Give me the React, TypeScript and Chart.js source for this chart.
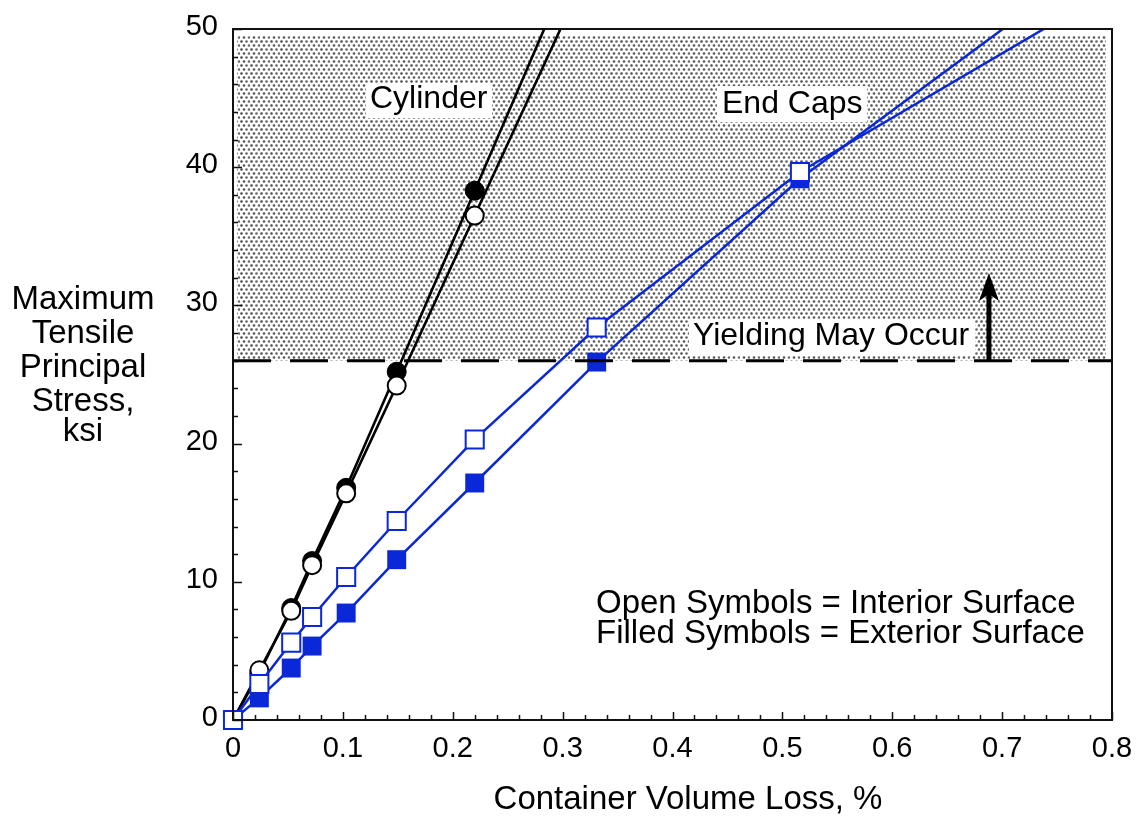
import React, { useEffect, useRef } from 'react';
import { Chart, registerables } from 'chart.js';

Chart.register(...registerables);

const FONT = '"Liberation Sans", Arial, Helvetica, sans-serif';

// Cylinder, filled circles (exterior surface); last point lies beyond the plot top
const cylExtX = [0, 0.024, 0.053, 0.072, 0.103, 0.149, 0.22, 0.3];
const cylExtY = [0, 3.4, 8.1, 11.5, 16.8, 25.2, 38.3, 53.1];
// Cylinder, open circles (interior surface)
const cylIntX = [0, 0.024, 0.053, 0.072, 0.103, 0.149, 0.22, 0.32];
const cylIntY = [0, 3.6, 7.9, 11.2, 16.4, 24.2, 36.5, 53.8];
// End caps, open squares (interior surface)
const capIntX = [0, 0.024, 0.053, 0.072, 0.103, 0.149, 0.22, 0.331, 0.516, 0.8];
const capIntY = [0, 2.6, 5.6, 7.45, 10.35, 14.4, 20.3, 28.4, 39.65, 52.9];
// End caps, filled squares (exterior surface)
const capExtX = [0, 0.024, 0.053, 0.072, 0.103, 0.149, 0.22, 0.331, 0.516, 0.75];
const capExtY = [0, 1.6, 3.76, 5.35, 7.74, 11.6, 17.15, 25.9, 39.16, 52.9];
// Yield threshold
const yieldX = [0, 0.8];
const yieldY = [26, 26];
const yieldLevel = 26;
const arrowX = 0.688;
const arrowTop = 32.35;

const xTitle = 'Container Volume Loss, %';
const yTitleLines = ['Maximum', 'Tensile', 'Principal', 'Stress,', 'ksi'];
const notes = ['Open Symbols = Interior Surface', 'Filled Symbols = Exterior Surface'];

const BLUE = '#0a28d8';

function zip(xs: number[], ys: number[]) {
  return xs.map((x, i) => ({ x, y: ys[i] }));
}

function makePattern(ctx: CanvasRenderingContext2D) {
  const c = document.createElement('canvas');
  c.width = 10;
  c.height = 8;
  const g = c.getContext('2d')!;
  g.fillStyle = '#fff';
  g.fillRect(0, 0, 10, 8);
  const dots = [
    [1, 1, '#4a4a4a'],
    [6, 1, '#646464'],
    [3.5, 5, '#555555'],
    [8.5, 5, '#6a6a6a'],
  ] as [number, number, string][];
  dots.forEach(([x, y, col]) => {
    g.fillStyle = col;
    g.beginPath();
    g.arc(x + 0.5, y + 0.5, 1.3, 0, Math.PI * 2);
    g.fill();
  });
  return ctx.createPattern(c, 'repeat')!;
}

function boxedText(ctx: CanvasRenderingContext2D, text: string, x: number, baseline: number, bx: number[], size: number) {
  ctx.fillStyle = '#fff';
  ctx.fillRect(bx[0], bx[1], bx[2] - bx[0], bx[3] - bx[1]);
  ctx.fillStyle = '#000';
  ctx.font = `${size}px ${FONT}`;
  ctx.textAlign = 'left';
  ctx.textBaseline = 'alphabetic';
  ctx.fillText(text, x, baseline);
}

const decor = {
  id: 'decor',
  beforeDatasetsDraw(chart: any) {
    const { ctx, chartArea, scales } = chart;
    const { left, right } = chartArea;
    const ys = scales.y;
    ctx.save();
    const top = ys.getPixelForValue(50) + 7;
    const bot = ys.getPixelForValue(yieldLevel);
    ctx.fillStyle = makePattern(ctx);
    ctx.fillRect(left + 4, top, right - 6 - (left + 4), bot - top);
    boxedText(ctx, 'Cylinder', 370, 108, [366, 83, 492, 118], 32);
    boxedText(ctx, 'End Caps', 722, 113, [717, 86, 867, 122], 32);
    boxedText(ctx, 'Yielding May Occur', 693, 345, [689, 320, 975, 356], 32);
    ctx.restore();
  },
  afterDatasetsDraw(chart: any) {
    const { ctx, scales } = chart;
    const xs = scales.x;
    const ys = scales.y;
    ctx.save();
    const ax = xs.getPixelForValue(arrowX);
    const ty = ys.getPixelForValue(arrowTop);
    const by = ys.getPixelForValue(yieldLevel);
    ctx.fillStyle = '#000';
    ctx.fillRect(ax - 2.5, ty + 18, 5, by - ty - 18 + 1);
    ctx.beginPath();
    ctx.moveTo(ax, ty);
    ctx.lineTo(ax + 10, ty + 28);
    ctx.lineTo(ax, ty + 21);
    ctx.lineTo(ax - 10, ty + 28);
    ctx.closePath();
    ctx.fill();
    ctx.restore();
  },
  afterDraw(chart: any) {
    const { ctx, chartArea, scales } = chart;
    const { left, right, top, bottom } = chartArea;
    const xs = scales.x;
    const ys = scales.y;
    ctx.save();
    ctx.strokeStyle = '#111';
    ctx.lineWidth = 2;
    ctx.strokeRect(left, top, right - left, bottom - top);
    ctx.lineWidth = 1.5;
    ctx.beginPath();
    for (let i = 0; i <= 40; i++) {
      const px = Math.round(xs.getPixelForValue(i * 0.02)) + 0.5;
      const len = i % 5 === 0 ? 8 : 5;
      ctx.moveTo(px, bottom);
      ctx.lineTo(px, bottom - len);
    }
    for (let i = 0; i <= 25; i++) {
      const py = Math.round(ys.getPixelForValue(i * 2)) + 0.5;
      const len = i % 5 === 0 ? 9 : 5;
      ctx.moveTo(left, py);
      ctx.lineTo(left + len, py);
    }
    ctx.stroke();

    ctx.fillStyle = '#000';
    ctx.textBaseline = 'alphabetic';
    ctx.font = `33px ${FONT}`;
    ctx.textAlign = 'left';
    ctx.fillText(notes[0], 596, 613);
    ctx.fillText(notes[1], 596, 643);
    ctx.textAlign = 'center';
    ctx.fillText(xTitle, 688, 809);
    const bases = [309, 343, 377, 411, 441];
    yTitleLines.forEach((t, i) => ctx.fillText(t, 83, bases[i]));
    ctx.restore();
  },
};

export default function App() {
  const ref = useRef<HTMLCanvasElement>(null);
  useEffect(() => {
    if (!ref.current) return;
    const markerClip = { left: 16, bottom: 16, top: 0, right: 0 };
    const lastHidden = (r: number, n: number) => (c: any) => (c.dataIndex === n - 1 ? 0 : r);
    const chart = new Chart(ref.current, {
      type: 'line',
      data: {
        datasets: [
          {
            data: zip(yieldX, yieldY),
            borderColor: '#000',
            borderWidth: 3,
            borderDash: [38, 19],
            pointRadius: 0,
            clip: 0,
          } as any,
          {
            data: zip(capIntX, capIntY),
            borderColor: BLUE,
            borderWidth: 2.5,
            pointStyle: 'rect',
            pointRadius: lastHidden(12.8, capIntX.length),
            pointBackgroundColor: '#fff',
            pointBorderColor: BLUE,
            pointBorderWidth: 2,
            clip: markerClip,
          },
          {
            data: zip(capExtX, capExtY),
            borderColor: BLUE,
            borderWidth: 2.5,
            pointStyle: 'rect',
            pointRadius: lastHidden(13.4, capExtX.length),
            pointBackgroundColor: BLUE,
            pointBorderColor: BLUE,
            pointBorderWidth: 0,
            clip: markerClip,
          },
          {
            data: zip(cylIntX, cylIntY),
            borderColor: '#000',
            borderWidth: 2.6,
            pointStyle: 'circle',
            pointRadius: lastHidden(9, cylIntX.length),
            pointBackgroundColor: '#fff',
            pointBorderColor: '#000',
            pointBorderWidth: 2,
            clip: markerClip,
          },
          {
            data: zip(cylExtX, cylExtY),
            borderColor: '#000',
            borderWidth: 2.6,
            pointStyle: 'circle',
            pointRadius: lastHidden(9.5, cylExtX.length),
            pointBackgroundColor: '#000',
            pointBorderColor: '#000',
            pointBorderWidth: 1,
            clip: markerClip,
          },
        ] as any,
      },
      options: {
        responsive: false,
        devicePixelRatio: 1,
        animation: false,
        parsing: false as any,
        layout: { padding: { top: 29, right: 28, left: 0, bottom: 0 } },
        plugins: { legend: { display: false }, tooltip: { enabled: false } },
        elements: { line: { tension: 0 } },
        scales: {
          x: {
            type: 'linear',
            min: 0,
            max: 0.8,
            afterFit: (s: any) => {
              s.height = 97;
              s.paddingLeft = 0;
              s.paddingRight = 0;
            },
            grid: { display: false, drawTicks: false },
            border: { display: false },
            ticks: {
              stepSize: 0.1,
              autoSkip: false,
              maxRotation: 0,
              padding: 12,
              color: '#000',
              font: { size: 29, family: FONT },
              callback: (v: any) => String(+Number(v).toFixed(1)),
            },
          },
          y: {
            type: 'linear',
            min: 0,
            max: 50,
            afterFit: (s: any) => {
              s.width = 233;
              s.paddingTop = 0;
              s.paddingBottom = 0;
            },
            grid: { display: false, drawTicks: false },
            border: { display: false },
            ticks: {
              stepSize: 10,
              padding: 15,
              labelOffset: -2,
              color: '#000',
              font: { size: 29, family: FONT },
            },
          },
        },
      },
      plugins: [decor],
    });
    return () => chart.destroy();
  }, []);
  return (
    <div style={{ position: 'fixed', left: 0, top: 0, width: 1140, height: 817, background: '#fff' }}>
      <canvas ref={ref} width={1140} height={817} style={{ display: 'block', width: 1140, height: 817 }} />
    </div>
  );
}
